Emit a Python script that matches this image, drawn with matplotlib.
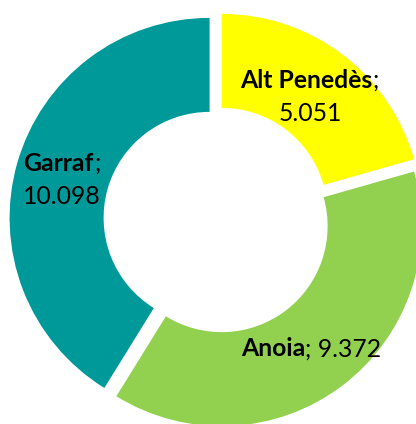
import matplotlib
matplotlib.use('Agg')
import matplotlib.pyplot as plt

# Daten
regions = ['Alt Penedès', 'Anoia', 'Garraf']
values = [5.051, 9.372, 10.098]
value_labels = ['5.051', '9.372', '10.098']
colors = ['#FFFF00', '#92D050', '#009999']

plt.rcParams['font.family'] = ['Lato', 'DejaVu Sans']

fig = plt.figure(figsize=(4.16, 4.24), dpi=100)
ax = fig.add_axes([0, 0, 1, 1])

ax.pie(values, startangle=90, counterclock=False, colors=colors,
       explode=[0.0385] * 3, radius=1.0,
       wedgeprops=dict(width=0.47, linewidth=0))

ax.set_xlim(-1.085, 0.995)
ax.set_ylim(-1.02, 1.10)
ax.set_aspect('equal')
ax.axis('off')

fs = 17.8
renderer = fig.canvas.get_renderer()


def label(x, y, bold, normal):
    # fetter Name + normaler Rest, zusammen zentriert
    t1 = ax.text(x, y, bold, weight='bold', ha='left', va='center', fontsize=fs)
    t2 = ax.annotate(normal, xy=(1, 0), xycoords=t1, va='bottom', ha='left', fontsize=fs)
    w = t1.get_window_extent(renderer).width + t2.get_window_extent(renderer).width
    inv = ax.transData.inverted()
    x0 = ax.transData.transform((x, y))[0] - w / 2
    t1.set_x(inv.transform((x0, 0))[0])


label(0.465, 0.70, regions[0], ';')
ax.text(0.465, 0.535, value_labels[0], ha='center', va='center', fontsize=fs)
label(-0.775, 0.285, regions[2], ';')
ax.text(-0.775, 0.12, value_labels[2], ha='center', va='center', fontsize=fs)
label(0.47, -0.645, regions[1], '; ' + value_labels[1])

fig.savefig('out.png', dpi=100)
